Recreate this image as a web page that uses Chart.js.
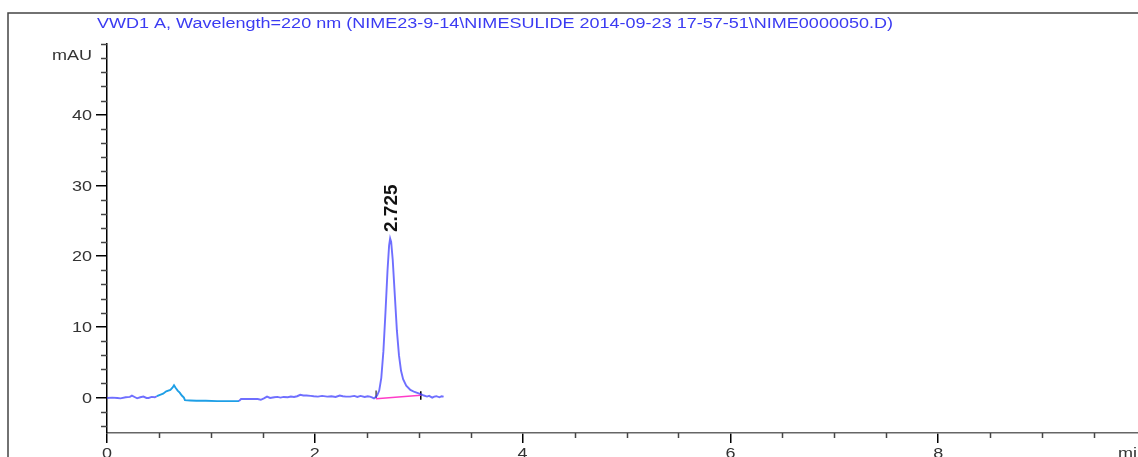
<!DOCTYPE html>
<html>
<head>
<meta charset="utf-8">
<title>VWD1 A chromatogram</title>
<script src="https://cdn.jsdelivr.net/npm/chart.js@4.4.1/dist/chart.umd.min.js"></script>
<style>
  html, body { margin: 0; padding: 0; background: #fff; overflow: hidden; }
  #wrap { position: absolute; left: 0; top: 0; width: 1180px; height: 480px; }
</style>
</head>
<body>
<div id="wrap"><canvas id="chrom" width="1180" height="480"></canvas></div>
<script>
// Data (time in min, signal in mAU)
const traceTime = [
  0.00, 0.05, 0.10, 0.13, 0.18, 0.22, 0.24, 0.27, 0.29, 0.32, 0.35, 0.38, 0.40, 0.43, 0.46,
  0.48, 0.51, 0.54, 0.57, 0.61, 0.63, 0.645, 0.66, 0.68, 0.70, 0.72, 0.74, 0.75, 0.80, 0.86,
  0.95, 1.06, 1.15, 1.27, 1.29, 1.37, 1.45, 1.48, 1.51, 1.54, 1.57, 1.61, 1.64, 1.67, 1.70,
  1.74, 1.77, 1.80, 1.83, 1.86, 1.89, 1.92, 1.96, 1.99, 2.03, 2.07, 2.12, 2.16, 2.20, 2.24,
  2.27, 2.30, 2.34, 2.38, 2.41, 2.44, 2.48, 2.51, 2.53, 2.55, 2.57, 2.58,
  2.60, 2.62, 2.64, 2.66, 2.68, 2.70, 2.715, 2.725, 2.735, 2.75, 2.77, 2.79, 2.81, 2.83,
  2.85, 2.88, 2.92, 2.96, 3.00, 3.02, 3.05, 3.08, 3.10, 3.13, 3.15, 3.17, 3.20, 3.22, 3.24
];
const traceValue = [
  -0.05, 0.00, -0.05, -0.10, 0.05, 0.10, 0.28, 0.05, -0.10, 0.05, 0.15, -0.05, -0.05, 0.10, 0.05,
  0.20, 0.40, 0.55, 0.90, 1.10, 1.40, 1.75, 1.40, 1.00, 0.70, 0.30, 0.00, -0.35, -0.40, -0.45,
  -0.45, -0.50, -0.50, -0.50, -0.20, -0.20, -0.20, -0.30, -0.10, 0.15, -0.05, 0.05, 0.10, 0.00, 0.10,
  0.05, 0.15, 0.10, 0.20, 0.40, 0.30, 0.30, 0.25, 0.20, 0.15, 0.25, 0.15, 0.20, 0.10, 0.30,
  0.20, 0.15, 0.15, 0.25, 0.10, 0.25, 0.10, 0.20, 0.15, 0.05, -0.10, 0.00,
  0.30, 1.00, 2.80, 6.50, 12.0, 18.0, 21.5, 22.5, 22.0, 19.5, 14.5, 9.50, 6.00, 3.80,
  2.60, 1.70, 1.10, 0.80, 0.60, 0.50, 0.30, 0.15, 0.25, 0.00, 0.15, 0.20, 0.05, 0.20, 0.15
];

// Integration baseline and peak start / end marks
const baseTime   = [2.59, 3.02];
const baseValue  = [-0.15, 0.35];
const startTime  = [2.59, 2.59];
const startValue = [-0.10, 1.00];
const endTime    = [3.02, 3.02];
const endValue   = [-0.30, 0.90];

const peakTime  = 2.725;
const peakLabel = "2.725";

// Axes
const xMin = 0, xMax = 10;
const yMin = -5, yMax = 50;
const xMajor = [0, 2, 4, 6, 8, 10];
const xLabels = ["0", "2", "4", "6", "8", ""];
const yMajor = [0, 10, 20, 30, 40];
const yLabels = ["0", "10", "20", "30", "40"];

const titleText = "VWD1 A, Wavelength=220 nm (NIME23-9-14\\NIMESULIDE 2014-09-23 17-57-51\\NIME0000050.D)";

const BLUE = "rgba(55,55,255,0.72)";
const CYAN = "#1e9fe6";
const FONT = "'Liberation Sans', Arial, sans-serif";

function pts(xs, ys) {
  return xs.map(function (x, i) { return { x: x, y: ys[i] }; });
}

// draws the stretched text, minor ticks, frame and the peak label
const chromDecor = {
  id: "chromDecor",
  afterDraw(chart) {
    const ctx = chart.ctx;
    const xs = chart.scales.x;
    const ys = chart.scales.y;
    const area = chart.chartArea;

    ctx.save();

    // outer frame (left and top only visible)
    ctx.strokeStyle = "#444";
    ctx.lineWidth = 1.5;
    ctx.beginPath();
    ctx.moveTo(8, 480);
    ctx.lineTo(8, 13);
    ctx.lineTo(1180, 13);
    ctx.stroke();

    // minor ticks
    ctx.strokeStyle = "#444";
    ctx.lineWidth = 1.5;
    ctx.beginPath();
    for (let t = xMin + 0.5; t < xMax; t += 0.5) {
      if (t % 2 === 0) continue;
      const px = Math.round(xs.getPixelForValue(t)) + 0.5;
      ctx.moveTo(px, area.bottom);
      ctx.lineTo(px, area.bottom + 5);
    }
    for (let v = -4; v <= yMax; v += 2) {
      if (v % 10 === 0 && v <= 40) continue;
      const py = Math.round(ys.getPixelForValue(v)) + 0.5;
      ctx.moveTo(area.left - 6, py);
      ctx.lineTo(area.left, py);
    }
    ctx.stroke();

    // text is horizontally stretched in the reference, fit it to the title width
    ctx.font = "15.5px " + FONT;
    const sx = 796 / ctx.measureText(titleText).width;

    function stretched(text, x, y, align, base, color) {
      ctx.save();
      ctx.font = "15.5px " + FONT;
      ctx.fillStyle = color;
      ctx.textAlign = align;
      ctx.textBaseline = base;
      ctx.translate(x, y);
      ctx.scale(sx, 1);
      ctx.fillText(text, 0, 0);
      ctx.restore();
    }

    stretched(titleText, 97, 28, "left", "alphabetic", "#3b3bf2");
    stretched("mAU", 92, 60, "right", "alphabetic", "#333");

    yMajor.forEach(function (v, i) {
      stretched(yLabels[i], 92, ys.getPixelForValue(v) + 1, "right", "middle", "#333");
    });
    xMajor.forEach(function (v, i) {
      if (xLabels[i]) stretched(xLabels[i], xs.getPixelForValue(v), 446, "center", "top", "#333");
    });
    stretched("min", 1118, 446, "left", "top", "#333");

    // retention time label, rotated
    ctx.save();
    ctx.font = "bold 19px " + FONT;
    ctx.fillStyle = "#111";
    ctx.textAlign = "left";
    ctx.textBaseline = "middle";
    ctx.translate(xs.getPixelForValue(peakTime) + 2, 232);
    ctx.rotate(-Math.PI / 2);
    ctx.fillText(peakLabel, 0, 0);
    ctx.restore();

    ctx.restore();
  }
};

new Chart(document.getElementById("chrom"), {
  type: "scatter",
  data: {
    datasets: [
      {
        data: pts(traceTime, traceValue),
        showLine: true,
        borderColor: BLUE,
        borderWidth: 1.9,
        pointRadius: 0,
        segment: {
          borderColor: function (c) {
            const a = c.p0.parsed.x, b = c.p1.parsed.x;
            return (a >= 0.475 && b <= 1.275) ? CYAN : undefined;
          }
        }
      },
      {
        data: pts(baseTime, baseValue),
        showLine: true,
        borderColor: "#ff3cc8",
        borderWidth: 1.5,
        pointRadius: 0
      },
      {
        data: pts(startTime, startValue),
        showLine: true,
        borderColor: "#555",
        borderWidth: 1.5,
        pointRadius: 0
      },
      {
        data: pts(endTime, endValue),
        showLine: true,
        borderColor: "#000",
        borderWidth: 1.5,
        pointRadius: 0
      }
    ]
  },
  options: {
    responsive: false,
    animation: false,
    layout: { padding: { left: 0, top: 44, right: 34, bottom: 27 } },
    plugins: {
      legend: { display: false },
      tooltip: { enabled: false }
    },
    scales: {
      x: {
        type: "linear",
        min: xMin,
        max: xMax,
        afterBuildTicks: function (s) { s.ticks = xMajor.map(function (v) { return { value: v }; }); },
        afterFit: function (s) { s.height = 20; },
        ticks: { display: false },
        grid: { drawOnChartArea: false, drawTicks: true, tickLength: 10, color: "#000", lineWidth: 1.5 },
        border: { color: "#666", width: 1.5 }
      },
      y: {
        type: "linear",
        min: yMin,
        max: yMax,
        afterBuildTicks: function (s) { s.ticks = yMajor.map(function (v) { return { value: v }; }); },
        afterFit: function (s) { s.width = 107; },
        ticks: { display: false },
        grid: { drawOnChartArea: false, drawTicks: true, tickLength: 11, color: "#000", lineWidth: 1.5 },
        border: { color: "#000", width: 1.5 }
      }
    }
  },
  plugins: [chromDecor]
});
</script>
</body>
</html>
